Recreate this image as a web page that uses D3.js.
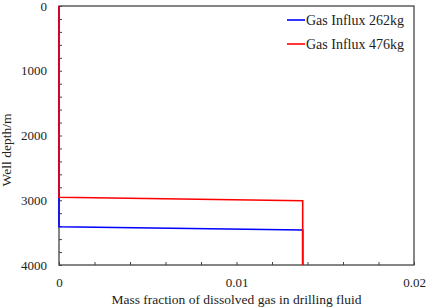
<!DOCTYPE html>
<html>
<head>
<meta charset="utf-8">
<script src="https://cdn.jsdelivr.net/npm/d3@7"></script>
<style>
  body { margin: 0; background: #fff; }
  svg { display: block; font-family: "Liberation Serif", "Times New Roman", serif; }
</style>
</head>
<body>
<svg id="chart" width="429" height="307"></svg>
<script>
// Daten
const seriesNames = ['Gas Influx 262kg', 'Gas Influx 476kg'];
const seriesColors = ['#0000ff', '#ff0000'];
// Massenanteil (x) und Tiefe in m (y)
const frac262 = [0, 0, 0.01373, 0.01373];
const depth262 = [0, 3409, 3460, 4000];
const frac476 = [0, 0, 0.01373, 0.01373];
const depth476 = [0, 2954, 3007, 4000];
const xTicks = [0, 0.01, 0.02];
const yTicks = [0, 1000, 2000, 3000, 4000];

const svg = d3.select('#chart');
const margin = { top: 6, right: 15, bottom: 42, left: 59 };
const width = 429 - margin.left - margin.right;
const height = 307 - margin.top - margin.bottom;

const g = svg.append('g')
    .attr('transform', `translate(${margin.left},${margin.top})`);

const x = d3.scaleLinear().domain([0, 0.02]).range([0, width]);
const y = d3.scaleLinear().domain([0, 4000]).range([0, height]);

const axisColor = '#444';
const textColor = '#222';

// Rahmen
g.append('rect')
    .attr('width', width)
    .attr('height', height)
    .attr('fill', 'none')
    .attr('stroke', axisColor)
    .attr('stroke-width', 1.3);

// Nebenstriche (innen)
const xMinor = d3.range(0, 0.0201, 0.002);
g.append('g')
    .attr('transform', `translate(0,${height})`)
    .call(d3.axisBottom(x).tickValues(xMinor).tickSize(-3).tickFormat(''))
    .call(a => a.select('.domain').remove())
    .selectAll('line').attr('stroke', axisColor);

const yMinor = d3.range(0, 4001, 200);
g.append('g')
    .call(d3.axisLeft(y).tickValues(yMinor).tickSize(-3).tickFormat(''))
    .call(a => a.select('.domain').remove())
    .selectAll('line').attr('stroke', axisColor);

// Achsenbeschriftungen
const xAxis = g.append('g')
    .attr('transform', `translate(0,${height})`)
    .call(d3.axisBottom(x).tickValues(xTicks).tickSize(0).tickPadding(13)
        .tickFormat(d => d === 0 ? '0' : d3.format('.2f')(d)));
xAxis.select('.domain').remove();
xAxis.selectAll('text')
    .style('font-family', '"Liberation Serif", serif')
    .style('font-size', '13px')
    .attr('fill', textColor);

const yAxis = g.append('g')
    .call(d3.axisLeft(y).tickValues(yTicks).tickSize(0).tickPadding(12)
        .tickFormat(d3.format('d')));
yAxis.select('.domain').remove();
yAxis.selectAll('text')
    .style('font-family', '"Liberation Serif", serif')
    .style('font-size', '13px')
    .attr('fill', textColor);

// Achsentitel
svg.append('text')
    .attr('x', margin.left + width / 2)
    .attr('y', 304)
    .attr('text-anchor', 'middle')
    .style('font-size', '13.5px')
    .attr('fill', textColor)
    .text('Mass fraction of dissolved gas in drilling fluid');

svg.append('text')
    .attr('transform', `translate(11,150) rotate(-90)`)
    .attr('text-anchor', 'middle')
    .style('font-size', '13.5px')
    .attr('fill', textColor)
    .text('Well depth/m');

// Linien
const line = d3.line().x(d => x(d[0])).y(d => y(d[1]));
const series = [
    d3.zip(frac262, depth262),
    d3.zip(frac476, depth476)
];
series.forEach((pts, i) => {
    g.append('path')
        .datum(pts)
        .attr('fill', 'none')
        .attr('stroke', seriesColors[i])
        .attr('stroke-width', 1.6)
        .attr('d', line);
});

// Legende
const legend = g.append('g')
    .attr('transform', `translate(${width - 127}, 14)`);
seriesNames.forEach((name, i) => {
    const row = legend.append('g').attr('transform', `translate(0,${i * 24})`);
    row.append('line')
        .attr('x1', 0).attr('x2', 18)
        .attr('stroke', seriesColors[i])
        .attr('stroke-width', 1.6);
    row.append('text')
        .attr('x', 19)
        .attr('y', 4.5)
        .style('font-size', '14px')
        .attr('fill', textColor)
        .text(name);
});
</script>
</body>
</html>
